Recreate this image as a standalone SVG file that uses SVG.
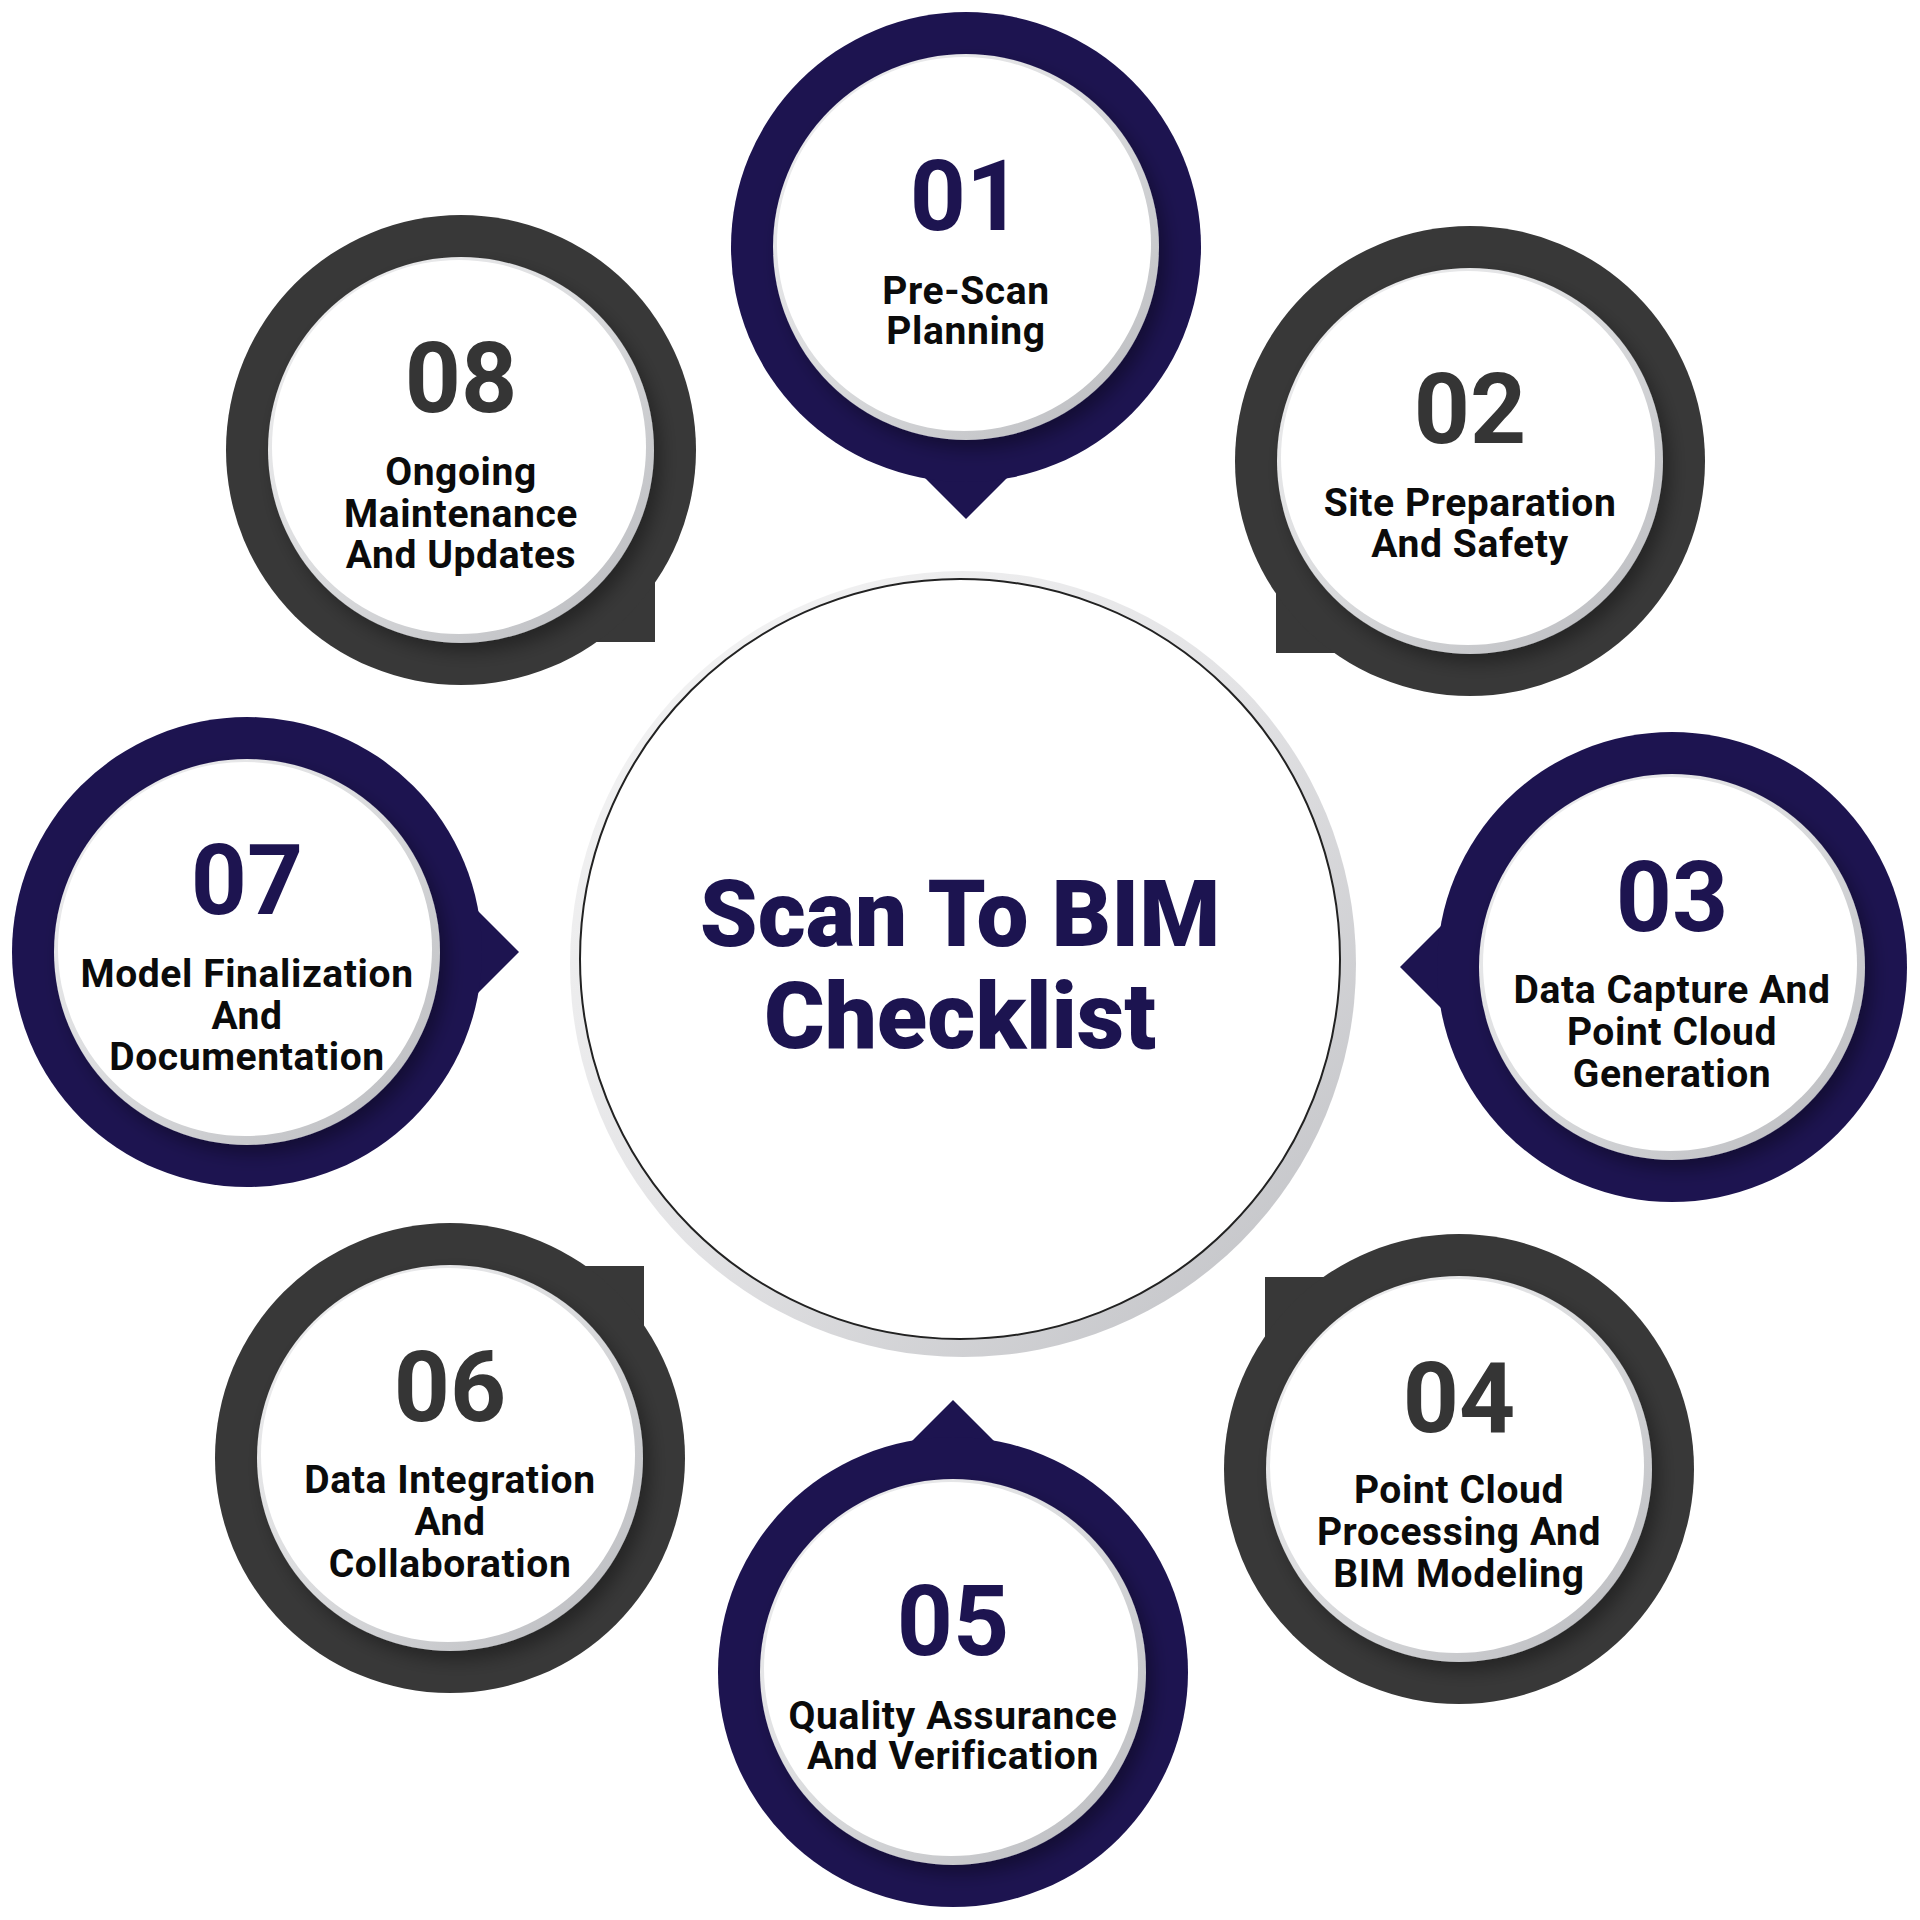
<svg xmlns="http://www.w3.org/2000/svg" width="1920" height="1920" viewBox="0 0 1920 1920">
<defs>
<linearGradient id="rimGrad" x1="0" y1="0" x2="1" y2="1">
<stop offset="0" stop-color="#f2f2f3"/>
<stop offset="0.5" stop-color="#d9dadc"/>
<stop offset="1" stop-color="#b8b9bd"/>
</linearGradient>
<linearGradient id="bigRim" x1="0" y1="0" x2="1" y2="1">
<stop offset="0" stop-color="#f7f7f7"/>
<stop offset="0.5" stop-color="#e3e3e5"/>
<stop offset="1" stop-color="#bdbec2"/>
</linearGradient>
<filter id="sh" x="-20%" y="-20%" width="140%" height="140%">
<feDropShadow dx="7" dy="9" stdDeviation="9" flood-color="#000" flood-opacity="0.35"/>
</filter>
</defs>
<style>
.navy{fill:#1d1450}
.dark{fill:#383838}
.rim{fill:url(#rimGrad)}
.disk{fill:#ffffff}
.num{font-family:Roboto,"Liberation Sans",sans-serif;font-weight:700;font-size:98px;text-anchor:middle}
.numN{fill:#1d1450}
.numD{fill:#353535}
.lbl{font-family:Roboto,"Liberation Sans",sans-serif;font-weight:700;font-size:39px;letter-spacing:0.6px;text-anchor:middle;fill:#0b0b0b}
.title{font-family:Roboto,"Liberation Sans",sans-serif;font-weight:900;font-size:92.5px;text-anchor:middle;fill:#1c1450}
</style>
<rect width="1920" height="1920" fill="#ffffff"/>

<g id="connectors"></g>

<g id="center">
<circle cx="963" cy="964" r="393" fill="url(#bigRim)"/>
<circle cx="960" cy="959" r="380" fill="#ffffff" stroke="#222222" stroke-width="2"/>
<text class="title" x="960" y="946">Scan To BIM</text>
<text class="title" x="960" y="1048">Checklist</text>
</g>

<g id="node01">
<polygon class="navy" points="966,519 909,462 966,405 1023,462"/>
<circle class="navy" cx="966" cy="247" r="235"/>
<g filter="url(#sh)"><circle class="rim" cx="966" cy="247" r="193"/></g>
<circle class="disk" cx="964" cy="244" r="187"/>
<text class="num numN" x="966" y="230">01</text>
<text class="lbl" x="966" y="304">Pre-Scan</text>
<text class="lbl" x="966" y="344">Planning</text>
</g>

<g id="node02">
<rect class="dark" x="1276" y="461" width="194" height="192"/>
<circle class="dark" cx="1470" cy="461" r="235"/>
<g filter="url(#sh)"><circle class="rim" cx="1470" cy="461" r="193"/></g>
<circle class="disk" cx="1468" cy="458" r="187"/>
<text class="num numD" x="1470" y="443">02</text>
<text class="lbl" x="1470" y="516">Site Preparation</text>
<text class="lbl" x="1470" y="557">And Safety</text>
</g>

<g id="node03">
<polygon class="navy" points="1400,967 1457,910 1514,967 1457,1024"/>
<circle class="navy" cx="1672" cy="967" r="235"/>
<g filter="url(#sh)"><circle class="rim" cx="1672" cy="967" r="193"/></g>
<circle class="disk" cx="1670" cy="964" r="187"/>
<text class="num numN" x="1672" y="931">03</text>
<text class="lbl" x="1672" y="1003">Data Capture And</text>
<text class="lbl" x="1672" y="1045">Point Cloud</text>
<text class="lbl" x="1672" y="1087">Generation</text>
</g>

<g id="node04">
<rect class="dark" x="1265" y="1277" width="194" height="192"/>
<circle class="dark" cx="1459" cy="1469" r="235"/>
<g filter="url(#sh)"><circle class="rim" cx="1459" cy="1469" r="193"/></g>
<circle class="disk" cx="1457" cy="1466" r="187"/>
<text class="num numD" x="1459" y="1432">04</text>
<text class="lbl" x="1459" y="1503">Point Cloud</text>
<text class="lbl" x="1459" y="1545">Processing And</text>
<text class="lbl" x="1459" y="1587">BIM Modeling</text>
</g>

<g id="node05">
<polygon class="navy" points="953,1400 1010,1457 953,1514 896,1457"/>
<circle class="navy" cx="953" cy="1672" r="235"/>
<g filter="url(#sh)"><circle class="rim" cx="953" cy="1672" r="193"/></g>
<circle class="disk" cx="951" cy="1669" r="187"/>
<text class="num numN" x="953" y="1655">05</text>
<text class="lbl" x="953" y="1729">Quality Assurance</text>
<text class="lbl" x="953" y="1769">And Verification</text>
</g>

<g id="node06">
<rect class="dark" x="450" y="1266" width="194" height="192"/>
<circle class="dark" cx="450" cy="1458" r="235"/>
<g filter="url(#sh)"><circle class="rim" cx="450" cy="1458" r="193"/></g>
<circle class="disk" cx="448" cy="1455" r="187"/>
<text class="num numD" x="450" y="1421">06</text>
<text class="lbl" x="450" y="1493">Data Integration</text>
<text class="lbl" x="450" y="1535">And</text>
<text class="lbl" x="450" y="1577">Collaboration</text>
</g>

<g id="node07">
<polygon class="navy" points="519,952 462,895 405,952 462,1009"/>
<circle class="navy" cx="247" cy="952" r="235"/>
<g filter="url(#sh)"><circle class="rim" cx="247" cy="952" r="193"/></g>
<circle class="disk" cx="245" cy="949" r="187"/>
<text class="num numN" x="247" y="914">07</text>
<text class="lbl" x="247" y="987">Model Finalization</text>
<text class="lbl" x="247" y="1029">And</text>
<text class="lbl" x="247" y="1070">Documentation</text>
</g>

<g id="node08">
<rect class="dark" x="461" y="450" width="194" height="192"/>
<circle class="dark" cx="461" cy="450" r="235"/>
<g filter="url(#sh)"><circle class="rim" cx="461" cy="450" r="193"/></g>
<circle class="disk" cx="459" cy="447" r="187"/>
<text class="num numD" x="461" y="412">08</text>
<text class="lbl" x="461" y="485">Ongoing</text>
<text class="lbl" x="461" y="527">Maintenance</text>
<text class="lbl" x="461" y="568">And Updates</text>
</g>
</svg>
